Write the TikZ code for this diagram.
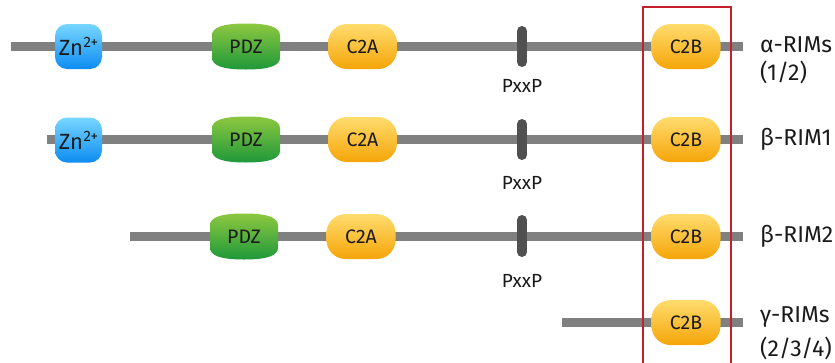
\documentclass[tikz,border=0pt]{standalone}
\usepackage{fontspec}
\setmainfont{Fira Sans}
\definecolor{bbgray}{HTML}{808080}
\definecolor{pxxgray}{HTML}{505050}
\definecolor{zntop}{HTML}{78D6FF}
\definecolor{znbot}{HTML}{0C8CF2}
\definecolor{pdztop}{HTML}{8DC840}
\definecolor{pdzbot}{HTML}{1E983A}
\definecolor{ctop}{HTML}{FFDC6E}
\definecolor{cbot}{HTML}{F5A508}
\definecolor{redbox}{HTML}{C4202C}
\definecolor{txt}{HTML}{1A1A1A}
\newcommand\pdzblob[3]{%
  \shade[top color=pdztop,bottom color=pdzbot]
    (#2-34,#3-11) .. controls (#2-34,#3-19) and (#2-24,#3-23) .. (#2,#3-23)
    .. controls (#2+24,#3-23) and (#2+34,#3-19) .. (#2+34,#3-11)
    -- (#2+34,#3+11) .. controls (#2+34,#3+19) and (#2+24,#3+23) .. (#2,#3+23)
    .. controls (#2-24,#3+23) and (#2-34,#3+19) .. (#2-34,#3+11) -- cycle;
  \node[boxtext] (#1) at (#2,#3) {PDZ};}
\begin{document}
\begin{tikzpicture}[x=1pt,y=-1pt,
  backbone/.style={line width=8.5pt,draw=bbgray},
  boxtext/.style={inner sep=0pt,text=txt,font=\fontsize{19.5}{19.5}\selectfont},
  znbox/.style={inner sep=0pt,text=txt,rounded corners=12pt,minimum width=47pt,minimum height=45pt,top color=zntop,bottom color=znbot},
  cbox/.style={boxtext,rounded corners=19pt,minimum width=69pt,minimum height=45pt,top color=ctop,bottom color=cbot},
  pxxbar/.style={line width=10pt,draw=pxxgray,line cap=round},
  pxxtext/.style={inner sep=0pt,text=txt,font=\fontsize{19}{19}\selectfont},
  rimlabel/.style={anchor=west,inner sep=0pt,text=txt,font=\fontsize{23}{23}\selectfont},
]
\useasboundingbox (0,0) rectangle (835,362);
\newcommand\zntext{\fontsize{22}{22}\selectfont Zn\kern0.5pt\raisebox{8pt}{\fontsize{15}{15}\selectfont 2+}}
% backbones
\coordinate (a0) at (11,46.5);  \coordinate (a1) at (743,46.5);
\coordinate (b0) at (47,139.5); \coordinate (b1) at (743,139.5);
\coordinate (c0) at (130,236.5); \coordinate (c1) at (743,236.5);
\coordinate (d0) at (562,322.5); \coordinate (d1) at (743,322.5);
\draw[backbone] (a0) -- (a1);
\draw[backbone] (b0) -- (b1);
\draw[backbone] (c0) -- (c1);
\draw[backbone] (d0) -- (d1);
% PxxP bars
\coordinate (ap0) at (522,31); \coordinate (ap1) at (522,62);
\coordinate (bp0) at (522,124); \coordinate (bp1) at (522,155);
\coordinate (cp0) at (522,220); \coordinate (cp1) at (522,252);
\draw[pxxbar] (ap0) -- (ap1);
\draw[pxxbar] (bp0) -- (bp1);
\draw[pxxbar] (cp0) -- (cp1);
\node[pxxtext] (apt) at (522,86) {PxxP};
\node[pxxtext] (bpt) at (522,183) {PxxP};
\node[pxxtext] (cpt) at (522,281) {PxxP};
% row 1
\node[znbox] (azn) at (78.5,46.5) {\zntext};
\pdzblob{apdz}{246}{46.5}
\node[cbox] (ac2a) at (362.5,46.5) {C2A};
\node[cbox] (ac2b) at (686,46.5) {C2B};
% row 2
\node[znbox] (bzn) at (78.5,140) {\zntext};
\pdzblob{bpdz}{246}{139.5}
\node[cbox] (bc2a) at (362.5,139.5) {C2A};
\node[cbox] (bc2b) at (686,139.5) {C2B};
% row 3
\pdzblob{cpdz}{244}{236.5}
\node[cbox] (cc2a) at (361,236.5) {C2A};
\node[cbox] (cc2b) at (686,236.5) {C2B};
% row 4
\node[cbox] (dc2b) at (686,322.5) {C2B};
% labels
\node[rimlabel] (la1) at (760,45) {α-RIMs};
\node[rimlabel] (la2) at (760,72) {(1/2)};
\node[rimlabel] (lb) at (760,139) {β-RIM1};
\node[rimlabel] (lc) at (760,236) {β-RIM2};
\node[rimlabel] (ld1) at (760,317) {γ-RIMs};
\node[rimlabel] (ld2) at (760,348) {(2/3/4)};
% red frame
\draw[redbox,line width=2pt] (643,7) rectangle (731,370);
\end{tikzpicture}
\end{document}
